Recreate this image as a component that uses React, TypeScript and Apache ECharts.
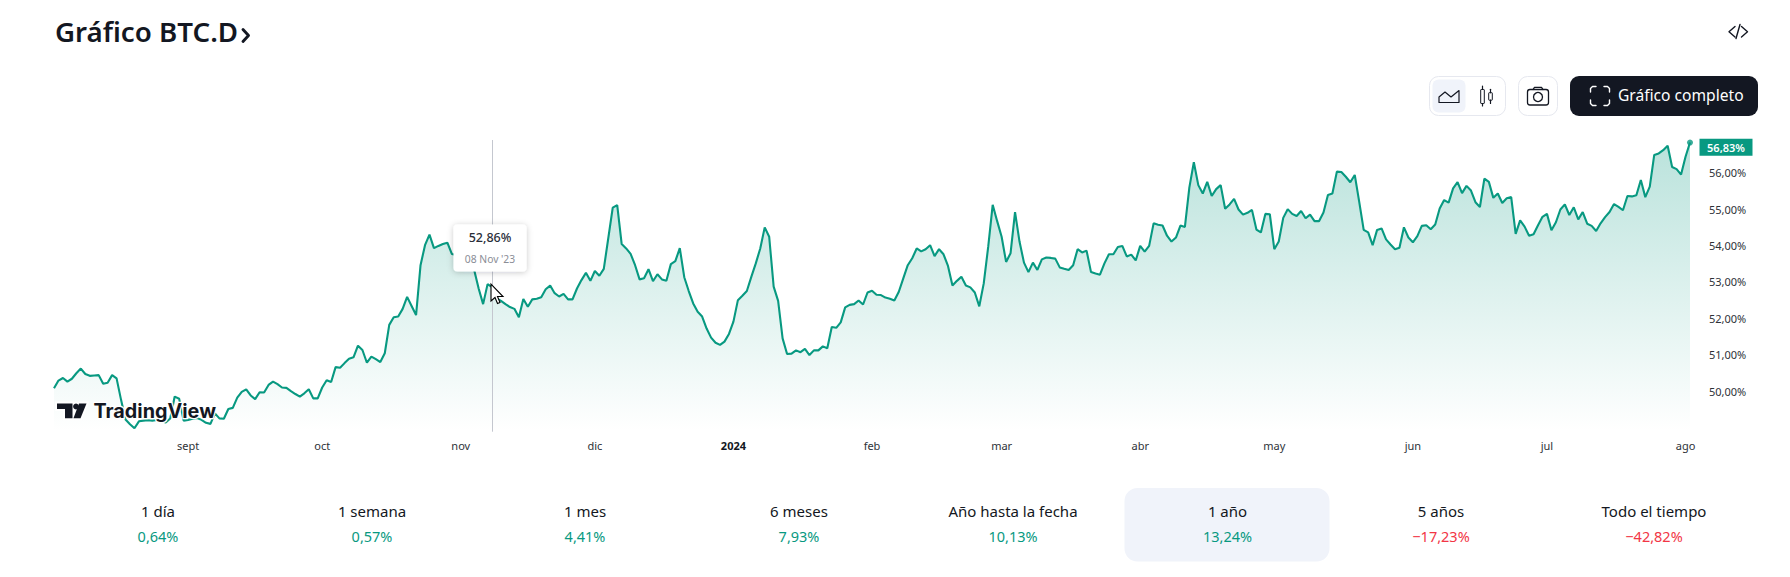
import React, { useEffect, useRef } from "react";
import * as echarts from "echarts";

const FONT = '"Noto Sans", sans-serif';
const GREEN = "#089981";
const RED = "#f23645";
const INK = "#131722";

const valuesAugSep = [50.08,50.29,50.36,50.26,50.34,50.49,50.62,50.47,50.42,50.43,50.44,50.20,50.23,50.44,50.35,49.76,49.22,49.09,48.98,49.17,49.19,49.20,49.19,49.21,49.18,49.14,49.25,49.85,49.79,49.19,49.21,49.24,49.26,49.21,49.13,49.10,49.39,49.25,49.24,49.51,49.54,49.82,49.98,50.05,49.88,49.78,49.97,49.96,50.17,50.26,50.19,50.10,50.09,50.00,49.92,49.85,49.94,50.05,49.80,49.80];
const valuesOctNov = [50.10,50.30,50.25,50.66,50.64,50.77,50.89,50.93,51.25,51.13,50.78,50.95,50.88,50.80,51.04,51.82,52.03,52.05,52.26,52.59,52.34,52.09,53.46,54.01,54.30,53.93,53.99,54.04,54.08,53.77,53.74,53.71,53.67,53.60,53.33,52.82,52.39,52.94,52.86,52.55,52.48,52.39,52.31,52.26,52.03,52.53,52.32,52.52,52.54,52.58,52.80,52.90,52.69,52.60,52.67,52.52,52.52,52.82,53.05,53.25];
const valuesDecJan = [53.03,53.30,53.17,53.36,54.20,55.04,55.11,54.04,53.92,53.77,53.46,53.07,53.10,53.35,53.02,53.21,53.07,53.03,53.49,53.57,53.93,53.13,52.75,52.41,52.18,52.05,51.72,51.47,51.33,51.27,51.36,51.57,51.91,52.50,52.62,52.75,53.14,53.51,53.92,54.50,54.24,52.87,52.48,51.45,51.02,51.03,51.12,51.07,51.16,50.99,51.12,51.12,51.23,51.18,51.76,51.74,51.89,52.30,52.37,52.39,52.49,52.38,52.71];
const valuesFebMar = [52.76,52.65,52.64,52.57,52.54,52.49,52.73,53.10,53.46,53.65,53.92,53.84,53.90,54.01,53.71,53.90,53.76,53.44,52.90,53.03,53.14,52.90,52.85,52.71,52.33,52.96,53.97,55.12,54.67,54.24,53.55,53.79,54.92,54.11,53.53,53.27,53.53,53.33,53.62,53.67,53.66,53.64,53.40,53.36,53.33,53.46,53.90,53.81,53.86,53.27,53.23,53.20,53.51,53.76,53.76,53.96,53.99,53.70,53.75,53.59,53.99];
const valuesAprMay = [53.83,53.99,54.61,54.57,54.55,54.27,54.11,54.22,54.55,54.51,55.60,56.29,55.66,55.43,55.75,55.36,55.55,55.66,55.01,55.13,55.28,54.99,54.85,54.90,54.98,54.44,54.36,54.87,54.86,53.90,54.11,54.76,55.00,54.87,54.81,54.95,54.75,54.85,54.67,54.67,54.91,55.39,55.43,56.03,56.02,55.89,55.74,55.94,55.20,54.43,54.36,54.01,54.43,54.47,54.17,54.03,53.90,53.94,54.50,54.22];
const valuesJunAug = [54.09,54.26,54.54,54.56,54.45,54.58,55.02,55.25,55.18,55.57,55.74,55.44,55.64,55.51,55.19,55.06,55.84,55.75,55.31,55.43,55.17,55.30,55.33,54.32,54.69,54.52,54.27,54.31,54.56,54.79,54.87,54.42,54.64,54.99,55.13,54.84,55.05,54.72,54.92,54.60,54.54,54.40,54.61,54.78,54.92,55.14,55.06,54.97,55.36,55.35,55.38,55.80,55.33,55.62,56.49,56.53,56.62,56.74,56.16,56.10,55.95,56.44,56.83];
const values = [...valuesAugSep, ...valuesOctNov, ...valuesDecJan, ...valuesFebMar, ...valuesAprMay, ...valuesJunAug];

const firstDay = Date.UTC(2023, 7, 2);
const categories = values.map((_, i) => new Date(firstDay + i * 86400000).toISOString().slice(0, 10));

const monthDates = ["2023-09-01","2023-10-01","2023-11-01","2023-12-01","2024-01-01","2024-02-01","2024-03-01","2024-04-01","2024-05-01","2024-06-01","2024-07-01","2024-08-01"];
const monthLabels = ["sept","oct","nov","dic","{b|2024}","feb","mar","abr","may","jun","jul","ago"];
const yTicks = [50, 51, 52, 53, 54, 55, 56];

const hoverDate = "2023-11-08";
const hoverValue = "52,86%";
const hoverDateLabel = "08 Nov '23";

const statNames = ["1 día","1 semana","1 mes","6 meses","Año hasta la fecha","1 año","5 años","Todo el tiempo"];
const statValues = ["0,64%","0,57%","4,41%","7,93%","10,13%","13,24%","−17,23%","−42,82%"];
const statCenters = [158, 372, 585, 799, 1013, 1227.5, 1441, 1654];

const pct = (v: number) => v.toFixed(2).replace(".", ",") + "%";

function stroke(color = INK, lineWidth = 1.4) {
  return { stroke: color, lineWidth, fill: "none", lineCap: "round", lineJoin: "round" };
}

function chromeElements() {
  const el: any[] = [];
  const poly = (points: number[][], color = INK, lw = 1.4) => el.push({ type: "polyline", z: 20, shape: { points }, style: stroke(color, lw) });
  const txt = (x: number, y: number, text: string, fontSize: number, fill: string, fontWeight: any = 400, align = "center", font = FONT) =>
    el.push({ type: "text", z: 30, x, y, style: { text, fontSize, fill, fontWeight, align, verticalAlign: "middle", fontFamily: font } });
  const box = (x: number, y: number, width: number, height: number, r: number, fill: string, line?: string) =>
    el.push({ type: "rect", z: 15, shape: { x, y, width, height, r }, style: { fill, stroke: line, lineWidth: line ? 1 : 0 } });

  // title
  txt(55, 31, "Gráfico BTC.D", 27.7, INK, 600, "left");
  poly([[243, 29.5], [248.5, 35.5], [243, 41.5]], INK, 2.9);
  // embed icon
  poly([[1735, 26.5], [1729, 31.8], [1735, 37]]);
  poly([[1740, 24.5], [1736, 38.5]]);
  poly([[1741.5, 26.5], [1747.5, 31.8], [1741.5, 37]]);

  // chart type toggle
  box(1429.5, 76.5, 76, 39, 9, "#ffffff", "#e6e8ef");
  box(1432.5, 79.5, 33, 33, 6, "#f0f3fa");
  poly([[1439, 102.5], [1459, 102.5], [1459, 90.5], [1451, 97], [1445, 92], [1439, 97], [1439, 102.5]], INK, 1.2);
  box(1480.7, 89.5, 3.6, 14, 0.5, "#ffffff", INK);
  poly([[1482.5, 86], [1482.5, 89.5]], INK, 1.2);
  poly([[1482.5, 103.5], [1482.5, 106]], INK, 1.2);
  box(1488.7, 92.7, 3.6, 7.5, 0.5, "#ffffff", INK);
  poly([[1490.5, 89.3], [1490.5, 92.7]], INK, 1.2);
  poly([[1490.5, 100.2], [1490.5, 103.5]], INK, 1.2);

  // camera button
  box(1518.5, 76.5, 39, 39, 9, "#ffffff", "#e6e8ef");
  el.push({ type: "rect", z: 20, shape: { x: 1527.5, y: 89.5, width: 21, height: 15.5, r: 2.5 }, style: stroke(INK, 1.3) });
  poly([[1533, 89.5], [1534.5, 87.3], [1541.5, 87.3], [1543, 89.5]], INK, 1.3);
  el.push({ type: "circle", z: 20, shape: { cx: 1538, cy: 97, r: 4.5 }, style: stroke(INK, 1.3) });

  // full chart button
  box(1570, 76, 188, 40, 9, INK);
  const W = "#ffffff";
  poly([[1590.5, 92], [1590.5, 88.5], [1592.5, 86.5], [1596, 86.5]], W);
  poly([[1604, 86.5], [1607.5, 86.5], [1609.5, 88.5], [1609.5, 92]], W);
  poly([[1590.5, 100], [1590.5, 103.5], [1592.5, 105.5], [1596, 105.5]], W);
  poly([[1604, 105.5], [1607.5, 105.5], [1609.5, 103.5], [1609.5, 100]], W);
  txt(1618, 95, "Gráfico completo", 15.6, W, 400, "left");

  // hover tooltip
  el.push({
    type: "rect", z: 25,
    shape: { x: 453.5, y: 224.5, width: 73, height: 47, r: 4 },
    style: { fill: "#ffffff", shadowBlur: 6, shadowColor: "rgba(19,23,34,0.22)", shadowOffsetY: 1 },
  });
  txt(490, 237.5, hoverValue, 12.5, "#2a2e39", 500);
  txt(490, 258.5, hoverDateLabel, 10.3, "#8a8d96");

  // cursor
  const cx = 491, cy = 284;
  const arrow = [[0,0],[0,17],[4,13.5],[6.5,19.5],[9,18.5],[6.5,12.5],[12,12.5]].map(([a, b]) => [cx + a, cy + b]);
  el.push({ type: "polygon", z: 28, shape: { points: arrow }, style: { fill: "#ffffff", stroke: "#000000", lineWidth: 1.1 } });

  // TradingView logo: white halo under solid shapes
  const logoT = [[57,403.5],[72.5,403.5],[72.5,418.3],[65,418.3],[65,409],[57,409]];
  const logoSlash = [[79,403.5],[86.5,403.5],[80.5,418.3],[73.5,418.3]];
  [logoT, logoSlash].forEach((points) => {
    el.push({ type: "polygon", z: 21, shape: { points }, style: { fill: "#ffffff", stroke: "#ffffff", lineWidth: 4 } });
    el.push({ type: "polygon", z: 22, shape: { points }, style: { fill: INK } });
  });
  el.push({ type: "circle", z: 21, shape: { cx: 76, cy: 406.5, r: 2.9 }, style: { fill: "#ffffff", stroke: "#ffffff", lineWidth: 4 } });
  el.push({ type: "circle", z: 22, shape: { cx: 76, cy: 406.5, r: 2.9 }, style: { fill: INK } });
  el.push({ type: "text", z: 23, x: 93.5, y: 410.5, style: { text: "TradingView", fontSize: 19.8, fontWeight: 700, fontFamily: "Inter, sans-serif", fill: INK, verticalAlign: "middle", align: "left", stroke: "#ffffff", lineWidth: 2.5 } });

  // performance row
  box(1124.5, 488, 205, 73.5, 13, "#f0f3fa");
  statNames.forEach((name, i) => {
    txt(statCenters[i], 511, name, 15, INK);
    txt(statCenters[i], 535.5, statValues[i], 14.5, statValues[i].startsWith("−") ? RED : GREEN);
  });
  return el;
}

export default function App() {
  const ref = useRef<HTMLDivElement>(null);
  useEffect(() => {
    document.body.style.margin = "0";
    const chart = echarts.init(ref.current!, null, { renderer: "svg" });
    const lastIndex = values.length - 1;
    chart.setOption({
      animation: false,
      backgroundColor: "#ffffff",
      textStyle: { fontFamily: FONT },
      grid: { left: 54, right: 100, top: 140, bottom: 145.3, containLabel: false },
      xAxis: {
        type: "category",
        boundaryGap: false,
        data: categories,
        axisLine: { show: false },
        axisTick: { show: false },
        splitLine: { show: false },
        axisLabel: {
          margin: 8.5,
          fontSize: 11,
          color: "#2e3238",
          hideOverlap: false,
          interval: (_: number, v: string) => monthDates.includes(v),
          formatter: (v: string) => monthLabels[monthDates.indexOf(v)] ?? "",
          rich: { b: { fontWeight: 700, fontSize: 11, color: "#131722" } },
        },
      },
      yAxis: {
        type: "value",
        position: "right",
        min: 48.885,
        max: 56.9,
        axisLine: { show: false },
        axisTick: { show: false },
        splitLine: { show: false },
        axisLabel: {
          customValues: yTicks,
          margin: 19,
          align: "left",
          fontSize: 11,
          color: "#2e3238",
          padding: [0, 0, 2, 0],
          formatter: (v: number) => pct(v),
        },
      },
      graphic: { elements: chromeElements() },
      series: [
        {
          type: "line",
          data: values,
          symbol: "none",
          smooth: false,
          lineStyle: { color: GREEN, width: 2.1 },
          itemStyle: { color: GREEN },
          areaStyle: {
            origin: "start",
            opacity: 1,
            color: new echarts.graphic.LinearGradient(0, 0, 0, 1, [
              { offset: 0, color: "rgba(8,153,129,0.28)" },
              { offset: 1, color: "rgba(8,153,129,0)" },
            ]),
          },
          endLabel: {
            show: true,
            distance: 36,
            offset: [0, 4.6],
            formatter: () => pct(values[lastIndex]),
            backgroundColor: GREEN,
            color: "#ffffff",
            fontSize: 11,
            fontWeight: 600,
            width: 53,
            height: 17,
            lineHeight: 17,
            align: "center",
          },
          markLine: {
            silent: true,
            symbol: "none",
            label: { show: false },
            lineStyle: { color: "#c4c7cf", width: 1, type: "solid" },
            data: [[{ coord: [hoverDate, 56.9] }, { coord: [hoverDate, 48.885] }]],
          },
        },
        {
          type: "scatter",
          data: [[categories[lastIndex], values[lastIndex]]],
          symbolSize: 6,
          clip: false,
          itemStyle: { color: GREEN },
        },
      ],
    });
    return () => chart.dispose();
  }, []);
  return <div ref={ref} style={{ position: "absolute", left: 0, top: 0, width: 1790, height: 577 }} />;
}
